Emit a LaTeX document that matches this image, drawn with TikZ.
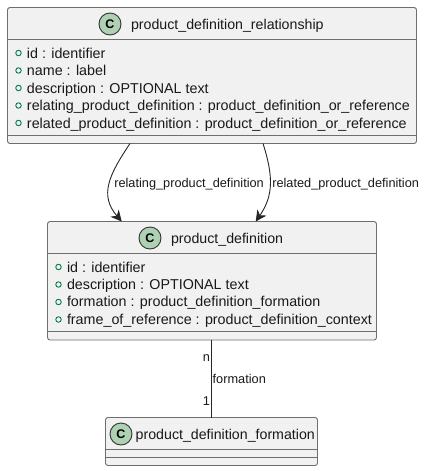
\documentclass[tikz,border=0pt]{standalone}
\usepackage{fontspec}
\setmainfont{Liberation Sans}
\usetikzlibrary{arrows.meta, positioning}
\definecolor{boxfill}{HTML}{F1F1F1}
\definecolor{boxline}{HTML}{6E6E6E}
\definecolor{badgefill}{HTML}{ADD1B2}
\definecolor{dotline}{HTML}{038048}

\begin{document}
\begin{tikzpicture}[
        x=1pt,y=-1pt,>={Stealth[length=11pt,width=11pt,inset=3.5pt]},
        every node/.style={inner sep=0pt,outer sep=0pt},
        classbox/.style={draw=boxline,fill=boxfill,line width=0.9pt,rounded corners=2.5pt,anchor=north west},
        sepline/.style={draw=boxline,line width=0.9pt},
        title/.style={anchor=base west,font=\fontsize{14.2}{16}\selectfont,text=black!90},
        member/.style={anchor=base west,font=\fontsize{14.3}{16}\selectfont,text=black!90},
        tag/.style={anchor=base west,font=\fontsize{12.75}{14}\selectfont,text=black!90},
        badge/.style={circle,draw=black!80,fill=badgefill,line width=0.9pt,minimum size=22pt,font=\fontsize{12.5}{14}\bfseries\selectfont},
        dot/.style={circle,draw=dotline,line width=0.9pt,minimum size=5.5pt},
        link/.style={draw=black!85,line width=0.9pt},
        ]
        \useasboundingbox (0,0) rectangle (425,471);

        % top class
        \node[classbox,minimum width=409pt,minimum height=136pt] (rel) at (7.5,7.5) {};
        \draw[sepline] (7.5,39.5) -- (416.5,39.5);
        \draw[sepline] (7.5,135.5) -- (416.5,135.5);
        \node[badge] (rel_c) at (110,24) {C};
        \node[title] (rel_t) at (131,29.3) {product\_definition\_relationship};
        \node[dot] (rel_d1) at (18.5,53) {};
        \node[dot] (rel_d2) at (18.5,70.5) {};
        \node[dot] (rel_d3) at (18.5,88) {};
        \node[dot] (rel_d4) at (18.5,105.5) {};
        \node[dot] (rel_d5) at (18.5,123) {};
        \node[member] (rel_m1) at (27,58) {id : identifier};
        \node[member] (rel_m2) at (27,75.3) {name : label};
        \node[member] (rel_m3) at (27,93) {description : OPTIONAL text};
        \node[member] (rel_m4) at (27,110.3) {relating\_product\_definition : product\_definition\_or\_reference};
        \node[member] (rel_m5) at (27,128.3) {related\_product\_definition : product\_definition\_or\_reference};

        % middle class
        \node[classbox,minimum width=329pt,minimum height=118.5pt] (def) at (47.5,221.5) {};
        \draw[sepline] (47.5,253.5) -- (376.5,253.5);
        \draw[sepline] (47.5,331.5) -- (376.5,331.5);
        \node[badge] (def_c) at (150,238) {C};
        \node[title] (def_t) at (171,243.3) {product\_definition};
        \node[dot] (def_d1) at (58.5,267) {};
        \node[dot] (def_d2) at (58.5,284.5) {};
        \node[dot] (def_d3) at (58.5,302) {};
        \node[dot] (def_d4) at (58.5,319.5) {};
        \node[member] (def_m1) at (67,272.3) {id : identifier};
        \node[member] (def_m2) at (67,289) {description : OPTIONAL text};
        \node[member] (def_m3) at (67,306.7) {formation : product\_definition\_formation};
        \node[member] (def_m4) at (67,324) {frame\_of\_reference : product\_definition\_context};

        % bottom class
        \node[classbox,minimum width=212pt,minimum height=48pt] (form) at (105.5,417.5) {};
        \draw[sepline] (105.5,449.5) -- (317.5,449.5);
        \draw[sepline] (105.5,457.5) -- (317.5,457.5);
        \node[badge] (form_c) at (121,434) {C};
        \node[title] (form_t) at (135.7,439.3) {product\_definition\_formation};

        % links
        \draw[link,->] ([xshift=-82pt]rel.south) .. controls (109,175) and (99,195) .. ([xshift=-90.3pt]def.north);
        \draw[link,->] ([xshift=51pt]rel.south) .. controls (273,175) and (274,195) .. ([xshift=43.7pt]def.north);
        \draw[link] (def.south -| form.north) -- (form.north);

        \node[tag] (relating_l) at (114.3,187.3) {relating\_product\_definition};
        \node[tag] (related_l) at (272.3,187.3) {related\_product\_definition};
        \node[tag,anchor=base east] (n_l) at (210,361) {n};
        \node[tag] (formation_l) at (212.7,383.3) {formation};
        \node[tag,anchor=base east] (one_l) at (210,405.7) {1};
\end{tikzpicture}
\end{document}
